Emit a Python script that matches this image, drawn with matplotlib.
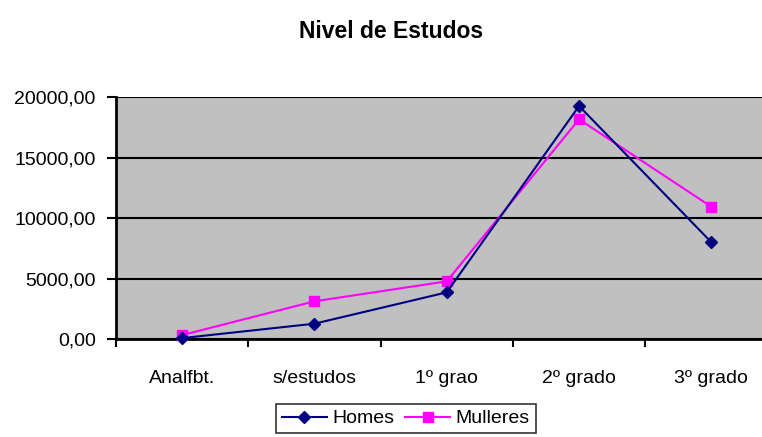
import matplotlib.pyplot as plt
from matplotlib.ticker import FuncFormatter

categories = ['Analfbt.', 's/estudos', '1º grao', '2º grado', '3º grado']
homes = [100, 1290, 3880, 19280, 8020]
mulleres = [350, 3140, 4790, 18180, 10950]
y_ticks = [0, 5000, 10000, 15000, 20000]

plt.rcParams['font.family'] = ['Liberation Sans', 'DejaVu Sans']

W, H = 762, 437
fig = plt.figure(figsize=(W / 100, H / 100), dpi=100)
# plot area in pixels: left 116, right runs past the image edge, top 97, bottom 339
ax = fig.add_axes([116 / W, 1 - 339.3 / H, (W - 116) / W, (339.3 - 97.3) / H])
ax.set_facecolor('#c0c0c0')

x = list(range(len(categories)))
ax.plot(x, homes, color='#000080', marker='D', markersize=6, lw=1.5,
        label='Homes', clip_on=False, zorder=4)
ax.plot(x, mulleres, color='#ff00ff', marker='s', markersize=7, lw=1.5,
        label='Mulleres', clip_on=False, zorder=3)

ax.set_ylim(0, 20000)
ax.set_yticks(y_ticks)
ax.yaxis.set_major_formatter(FuncFormatter(lambda v, p: f'{v:.2f}'.replace('.', ',')))
ax.grid(axis='y', color='black', lw=1.5)
ax.set_axisbelow(True)

# category boundaries as major ticks, labels on minor ticks at the centres
ax.set_xticks([i - 0.5 for i in range(len(categories))])
ax.set_xticklabels([])
ax.set_xticks(x, minor=True)
ax.set_xticklabels(categories, minor=True)
ax.set_xlim(-0.5, -0.5 + (W - 116) / 132.3)
ax.tick_params(axis='x', which='minor', length=0, pad=22, labelsize=14)
ax.tick_params(axis='x', which='major', length=6, width=1.5, direction='out')
ax.tick_params(axis='y', length=6.5, width=1.5, labelsize=14, pad=8)

for s in ['top', 'right']:
    ax.spines[s].set_visible(False)
ax.spines['left'].set_linewidth(2)
ax.spines['bottom'].set_linewidth(2)

fig.text(391 / W, 1 - 31 / H, 'Nivel de Estudos', ha='center', va='center',
         fontsize=16.5, fontweight='bold')

leg = fig.legend(loc='upper center', bbox_to_anchor=(406 / W, 1 - 404 / H), ncol=2,
                 fontsize=14, frameon=True, fancybox=False, edgecolor='black',
                 handlelength=2.3, columnspacing=0.55, handletextpad=0.3,
                 borderpad=0.3, borderaxespad=0)
leg.get_frame().set_linewidth(1.2)

fig.savefig('out.png', dpi=100)
